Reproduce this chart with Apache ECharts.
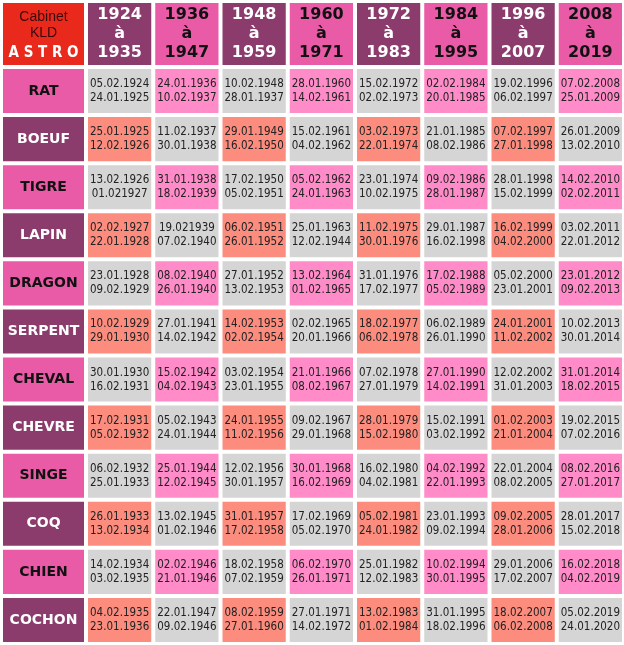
<!DOCTYPE html>
<html><head><meta charset="utf-8">
<script src="https://cdn.jsdelivr.net/npm/echarts@6/dist/echarts.min.js"></script>
<style>html,body{margin:0;padding:0;background:#fff}#c{width:624px;height:645px}</style>
</head><body><div id="c"></div>
<script>
const periods = [["1924","1935"],["1936","1947"],["1948","1959"],["1960","1971"],["1972","1983"],["1984","1995"],["1996","2007"],["2008","2019"]];
const animals = ["RAT","BOEUF","TIGRE","LAPIN","DRAGON","SERPENT","CHEVAL","CHEVRE","SINGE","COQ","CHIEN","COCHON"];
const startDates = [
["05.02.1924","24.01.1936","10.02.1948","28.01.1960","15.02.1972","02.02.1984","19.02.1996","07.02.2008"],
["25.01.1925","11.02.1937","29.01.1949","15.02.1961","03.02.1973","21.01.1985","07.02.1997","26.01.2009"],
["13.02.1926","31.01.1938","17.02.1950","05.02.1962","23.01.1974","09.02.1986","28.01.1998","14.02.2010"],
["02.02.1927","19.021939","06.02.1951","25.01.1963","11.02.1975","29.01.1987","16.02.1999","03.02.2011"],
["23.01.1928","08.02.1940","27.01.1952","13.02.1964","31.01.1976","17.02.1988","05.02.2000","23.01.2012"],
["10.02.1929","27.01.1941","14.02.1953","02.02.1965","18.02.1977","06.02.1989","24.01.2001","10.02.2013"],
["30.01.1930","15.02.1942","03.02.1954","21.01.1966","07.02.1978","27.01.1990","12.02.2002","31.01.2014"],
["17.02.1931","05.02.1943","24.01.1955","09.02.1967","28.01.1979","15.02.1991","01.02.2003","19.02.2015"],
["06.02.1932","25.01.1944","12.02.1956","30.01.1968","16.02.1980","04.02.1992","22.01.2004","08.02.2016"],
["26.01.1933","13.02.1945","31.01.1957","17.02.1969","05.02.1981","23.01.1993","09.02.2005","28.01.2017"],
["14.02.1934","02.02.1946","18.02.1958","06.02.1970","25.01.1982","10.02.1994","29.01.2006","16.02.2018"],
["04.02.1935","22.01.1947","08.02.1959","27.01.1971","13.02.1983","31.01.1995","18.02.2007","05.02.2019"]];
const endDates = [
["24.01.1925","10.02.1937","28.01.1937","14.02.1961","02.02.1973","20.01.1985","06.02.1997","25.01.2009"],
["12.02.1926","30.01.1938","16.02.1950","04.02.1962","22.01.1974","08.02.1986","27.01.1998","13.02.2010"],
["01.021927","18.02.1939","05.02.1951","24.01.1963","10.02.1975","28.01.1987","15.02.1999","02.02.2011"],
["22.01.1928","07.02.1940","26.01.1952","12.02.1944","30.01.1976","16.02.1998","04.02.2000","22.01.2012"],
["09.02.1929","26.01.1940","13.02.1953","01.02.1965","17.02.1977","05.02.1989","23.01.2001","09.02.2013"],
["29.01.1930","14.02.1942","02.02.1954","20.01.1966","06.02.1978","26.01.1990","11.02.2002","30.01.2014"],
["16.02.1931","04.02.1943","23.01.1955","08.02.1967","27.01.1979","14.02.1991","31.01.2003","18.02.2015"],
["05.02.1932","24.01.1944","11.02.1956","29.01.1968","15.02.1980","03.02.1992","21.01.2004","07.02.2016"],
["25.01.1933","12.02.1945","30.01.1957","16.02.1969","04.02.1981","22.01.1993","08.02.2005","27.01.2017"],
["13.02.1934","01.02.1946","17.02.1958","05.02.1970","24.01.1982","09.02.1994","28.01.2006","15.02.2018"],
["03.02.1935","21.01.1946","07.02.1959","26.01.1971","12.02.1983","30.01.1995","17.02.2007","04.02.2019"],
["23.01.1936","09.02.1946","27.01.1960","14.02.1972","01.02.1984","18.02.1996","06.02.2008","24.01.2020"]];

const GRAY='#d5d5d5', PINKC='#ff8bc8', SALMON='#fb8c7e', PINKL='#e95ba6', PURPLE='#8c3b6d', RED='#e8291c';
const cols = periods.map((p,i)=>'c'+i);
const rows = animals;

const cellData=[], labelData=[], headData=[];
for(let r=0;r<12;r++){
  labelData.push([0,r]);
  for(let c=0;c<8;c++) cellData.push([c,r]);
}
for(let c=0;c<8;c++) headData.push([c,0]);

function box(api, x, y, w, h, fill, textObj){
  return {type:'group',children:[
    {type:'rect',shape:{x:x-w/2,y:y-h/2,width:w,height:h},style:{fill:fill}},
    {type:'text',x:x,y:y,style:Object.assign({align:'center',verticalAlign:'middle'},textObj)}
  ]};
}
const chart = echarts.init(document.getElementById('c'),null,{renderer:'canvas'});
chart.setOption({
  animation:false,
  grid:[
    {left:86,right:0,top:67,bottom:1},
    {left:1,width:85,top:67,bottom:1},
    {left:86,right:0,top:1,height:66},
    {left:1,width:85,top:1,height:66}
  ],
  xAxis:[
    {gridIndex:0,type:'category',data:cols,show:false},
    {gridIndex:1,type:'category',data:['l'],show:false},
    {gridIndex:2,type:'category',data:cols,show:false},
    {gridIndex:3,type:'category',data:['h'],show:false}
  ],
  yAxis:[
    {gridIndex:0,type:'category',data:rows,inverse:true,show:false},
    {gridIndex:1,type:'category',data:rows,inverse:true,show:false},
    {gridIndex:2,type:'category',data:['h'],show:false},
    {gridIndex:3,type:'category',data:['h'],show:false}
  ],
  series:[
    {type:'custom',xAxisIndex:0,yAxisIndex:0,data:cellData,renderItem:(p,api)=>{
      const c=api.value(0), r=api.value(1); const pt=api.coord([c,r]); const s=api.size([1,1]);
      let fill;
      if(r%2===0) fill = c%2===0?GRAY:PINKC; else fill = c%2===0?SALMON:GRAY;
      return box(api,pt[0],pt[1],s[0]-4,s[1]-4,fill,{text:startDates[r][c]+'\n'+endDates[r][c],fill:'#222',font:'11.5px "DejaVu Sans Condensed"',lineHeight:14});
    }},
    {type:'custom',xAxisIndex:1,yAxisIndex:1,data:labelData,renderItem:(p,api)=>{
      const r=api.value(1); const pt=api.coord([0,r]); const s=api.size([1,1]);
      const even=r%2===0;
      return box(api,pt[0],pt[1],s[0]-4,s[1]-4,even?PINKL:PURPLE,{text:animals[r],fill:even?'#111':'#fff',font:'bold 14px "DejaVu Sans"'});
    }},
    {type:'custom',xAxisIndex:2,yAxisIndex:2,data:headData,renderItem:(p,api)=>{
      const c=api.value(0); const pt=api.coord([c,0]); const s=api.size([1,1]);
      const even=c%2===0;
      return box(api,pt[0],pt[1],s[0]-4,s[1]-4,even?PURPLE:PINKL,{text:periods[c][0]+'\nà\n'+periods[c][1],fill:even?'#fff':'#111',font:'bold 16px "DejaVu Sans"',lineHeight:19});
    }},
    {type:'custom',xAxisIndex:3,yAxisIndex:3,data:[[0,0]],renderItem:(p,api)=>{
      const pt=api.coord([0,0]); const s=api.size([1,1]);
      return {type:'group',children:[
        {type:'rect',shape:{x:pt[0]-s[0]/2+2,y:pt[1]-s[1]/2+2,width:s[0]-4,height:s[1]-4},style:{fill:RED}},
        {type:'text',x:pt[0],y:pt[1]-9,style:{text:'Cabinet\nKLD',align:'center',verticalAlign:'middle',fill:'#3a0a0a',font:'14px "Liberation Sans"',lineHeight:16}},
        {type:'text',x:pt[0],y:pt[1]+19,style:{text:'A S T R O',align:'center',verticalAlign:'middle',fill:'#fff',font:'bold 15px "DejaVu Sans Condensed"'}}
      ]};
    }}
  ]
});
</script></body></html>
